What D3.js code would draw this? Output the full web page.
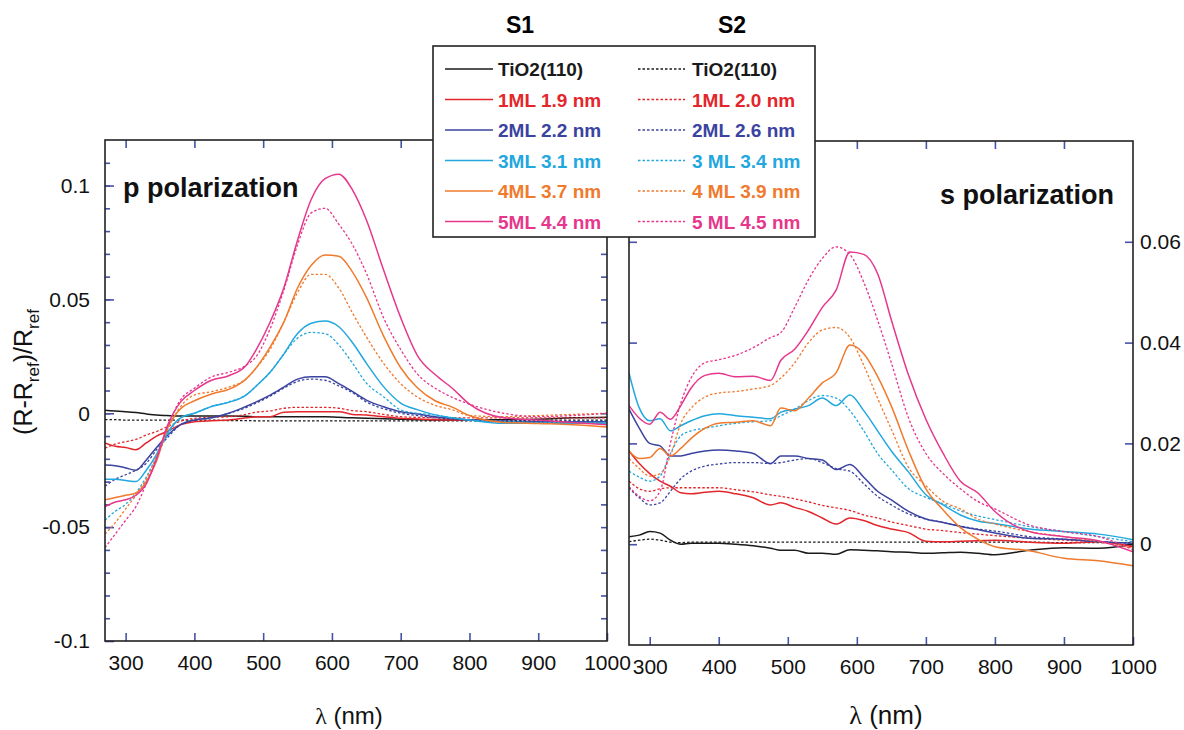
<!DOCTYPE html>
<html>
<head>
<meta charset="utf-8">
<script src="https://cdn.jsdelivr.net/npm/d3@7"></script>
<style>
  body { margin: 0; background: #fff; }
  svg { font-family: "Liberation Sans", Arial, sans-serif; }
</style>
</head>
<body>
<div id="chart"></div>
<script>
// wavelength grid (nm) shared by every curve
const WL = [270, 285, 300, 315, 330, 345, 360,
            380, 400, 425, 450, 475, 490,
            510, 530, 550, 570, 590, 610, 630, 650,
            675, 700, 725, 750, 775, 800,
            850, 900, 950, 1000];

// p polarization, sample S1 (solid lines)
const P_S1_TIO2 = [0.0013, 0.001, 0.0007, 0.0003, -0.0003, -0.0008, -0.001,
                   -0.0012, -0.0012, -0.0012, -0.0012, -0.0013, -0.0015,
                   -0.0015, -0.0015, -0.0015, -0.0015, -0.0015, -0.0018, -0.002, -0.0022,
                   -0.0024, -0.0026, -0.0028, -0.003, -0.003, -0.003,
                   -0.0028, -0.0026, -0.002, -0.0017];
const P_S1_1ML = [-0.013, -0.0145, -0.015, -0.016, -0.013, -0.010, -0.008,
                  -0.005, -0.0037, -0.0033, -0.003, -0.002, -0.0015,
                  -0.0015, 0.0005, 0.0007, 0.0007, 0.0007, 0.0007, -0.0005, -0.0008,
                  -0.0015, -0.0022, -0.0025, -0.0028, -0.003, -0.003,
                  -0.0035, -0.004, -0.004, -0.0044];
const P_S1_2ML = [-0.0227, -0.023, -0.024, -0.025, -0.0205, -0.015, -0.010,
                  -0.005, -0.003, -0.002, 0.0, 0.003, 0.005,
                  0.008, 0.0115, 0.015, 0.016, 0.016, 0.013, 0.0095, 0.0058,
                  0.0029, 0.0007, -0.0003, -0.0015, -0.0022, -0.003,
                  -0.0035, -0.0037, -0.0037, -0.0037];
const P_S1_3ML = [-0.029, -0.029, -0.0295, -0.030, -0.025, -0.018, -0.009,
                  -0.002, 0.0, 0.003, 0.0048, 0.008, 0.012,
                  0.018, 0.026, 0.035, 0.0395, 0.0405, 0.038, 0.031, 0.022,
                  0.0117, 0.0045, 0.0015, -0.0007, -0.002, -0.003,
                  -0.0044, -0.0044, -0.0044, -0.0044];
const P_S1_4ML = [-0.038, -0.037, -0.036, -0.035, -0.030, -0.021, -0.007,
                  0.002, 0.0055, 0.0085, 0.0105, 0.015, 0.020,
                  0.029, 0.040, 0.055, 0.065, 0.0695, 0.069, 0.062, 0.051,
                  0.034, 0.020, 0.011, 0.0055, 0.0027, -0.001,
                  -0.004, -0.0045, -0.005, -0.006];
const P_S1_5ML = [-0.041, -0.039, -0.038, -0.036, -0.031, -0.020, -0.006,
                  0.005, 0.010, 0.0145, 0.0165, 0.021, 0.028,
                  0.040, 0.055, 0.076, 0.094, 0.103, 0.105, 0.098, 0.085,
                  0.063, 0.042, 0.025, 0.017, 0.011, 0.004,
                  -0.002, -0.003, -0.004, -0.005];

// p polarization, sample S2 (dashed lines)
const P_S2_TIO2 = [-0.0028, -0.0028, -0.003, -0.003, -0.003, -0.003, -0.003,
                   -0.003, -0.003, -0.003, -0.0032, -0.0032, -0.0033,
                   -0.0033, -0.0033, -0.0033, -0.0033, -0.0033, -0.0033, -0.0033, -0.0033,
                   -0.0033, -0.0033, -0.0033, -0.0033, -0.0033, -0.0033,
                   -0.0032, -0.003, -0.003, -0.003];
const P_S2_1ML = [-0.0153, -0.0135, -0.0125, -0.0115, -0.0095, -0.008, -0.006,
                  -0.0035, -0.0022, -0.0018, -0.0015, -0.0005, 0.0005,
                  0.001, 0.0022, 0.0026, 0.0026, 0.0026, 0.0022, 0.0012, 0.0007,
                  -0.0005, -0.0015, -0.0018, -0.002, -0.002, -0.002,
                  -0.002, -0.002, -0.002, -0.002];
const P_S2_2ML = [-0.032, -0.029, -0.027, -0.025, -0.022, -0.016, -0.011,
                  -0.005, -0.003, -0.002, 0.0, 0.0025, 0.0045,
                  0.0075, 0.011, 0.014, 0.015, 0.0145, 0.012, 0.009, 0.005,
                  0.002, 0.0, -0.001, -0.002, -0.0025, -0.003,
                  -0.0035, -0.0035, -0.0035, -0.0035];
const P_S2_3ML = [-0.047, -0.043, -0.040, -0.035, -0.028, -0.019, -0.010,
                  -0.002, 0.0, 0.003, 0.005, 0.008, 0.012,
                  0.018, 0.026, 0.033, 0.0355, 0.035, 0.030, 0.022, 0.0133,
                  0.0073, 0.0015, 0.0, -0.0007, -0.002, -0.003,
                  -0.0035, -0.004, -0.004, -0.004];
const P_S2_4ML = [-0.053, -0.048, -0.042, -0.036, -0.029, -0.019, -0.008,
                  0.003, 0.008, 0.0095, 0.0115, 0.015, 0.020,
                  0.028, 0.040, 0.053, 0.061, 0.061, 0.055, 0.044, 0.0336,
                  0.022, 0.013, 0.007, 0.0035, 0.0015, -0.001,
                  -0.0015, -0.001, -0.0005, 0.0];
const P_S2_5ML = [-0.059, -0.053, -0.047, -0.041, -0.031, -0.020, -0.007,
                  0.006, 0.011, 0.016, 0.018, 0.021, 0.025,
                  0.037, 0.054, 0.074, 0.088, 0.090, 0.083, 0.074, 0.0615,
                  0.042, 0.028, 0.017, 0.011, 0.007, 0.004,
                  0.0, -0.0015, -0.001, 0.0];

// s polarization, sample S1 (solid lines)
const S_S1_TIO2 = [0.0015, 0.0018, 0.0025, 0.0022, 0.0008, 0.0, 0.0002,
                   0.0002, 0.0002, 0.0, -0.0003, -0.0008, -0.0012,
                   -0.0012, -0.0018, -0.0018, -0.002, -0.0011, -0.0012, -0.0013, -0.0015,
                   -0.0016, -0.0018, -0.0017, -0.0016, -0.0018, -0.0021,
                   -0.0012, -0.0007, -0.0008, 0.0];
const S_S1_1ML = [0.0185, 0.016, 0.014, 0.0125, 0.0115, 0.0102, 0.010,
                  0.0103, 0.0105, 0.010, 0.0092, 0.0078, 0.0082,
                  0.0073, 0.0065, 0.0052, 0.004, 0.0052, 0.0047, 0.0037, 0.003,
                  0.0023, 0.0006, 0.0005, 0.0006, 0.0007, 0.0008,
                  0.0004, 0.0002, 0.0005, -0.0005];
const S_S1_2ML = [0.0268, 0.023, 0.020, 0.0195, 0.0175, 0.0175, 0.018,
                  0.0185, 0.0187, 0.0185, 0.018, 0.016, 0.0175,
                  0.0175, 0.017, 0.0167, 0.0148, 0.0158, 0.0133, 0.0105, 0.0088,
                  0.0065, 0.005, 0.0043, 0.0035, 0.0029, 0.0022,
                  0.0012, 0.001, 0.0005, 0.0002];
const S_S1_3ML = [0.034, 0.027, 0.0245, 0.0249, 0.0225, 0.0235, 0.0245,
                  0.0255, 0.0259, 0.0255, 0.0252, 0.0249, 0.0262,
                  0.0268, 0.0275, 0.029, 0.0275, 0.0296, 0.0265, 0.0225, 0.0185,
                  0.0143, 0.0098, 0.0078, 0.0058, 0.0046, 0.0041,
                  0.003, 0.0025, 0.002, 0.0009];
const S_S1_4ML = [0.0185, 0.017, 0.0172, 0.019, 0.0175, 0.019, 0.021,
                  0.023, 0.024, 0.0242, 0.0245, 0.0235, 0.027,
                  0.0265, 0.029, 0.032, 0.034, 0.0395, 0.0378, 0.0333, 0.0274,
                  0.0185, 0.011, 0.0068, 0.0033, 0.001, -0.0005,
                  -0.0013, -0.0028, -0.0033, -0.0043];
const S_S1_5ML = [0.0275, 0.025, 0.0238, 0.0262, 0.0248, 0.0275, 0.031,
                  0.0335, 0.0339, 0.0332, 0.0333, 0.0325, 0.0365,
                  0.0387, 0.0425, 0.047, 0.0504, 0.058, 0.0575, 0.0537, 0.0445,
                  0.0335, 0.0248, 0.018, 0.0125, 0.0102, 0.0065,
                  0.0025, 0.0015, 0.0007, -0.0015];

// s polarization, sample S2 (dashed lines)
const S_S2_TIO2 = [0.0005, 0.0008, 0.001, 0.0008, 0.0004, 0.0003, 0.0004,
                   0.0004, 0.0004, 0.0004, 0.0004, 0.0004, 0.0004,
                   0.0004, 0.0004, 0.0004, 0.0004, 0.0004, 0.0004, 0.0004, 0.0004,
                   0.0004, 0.0004, 0.0004, 0.0004, 0.0004, 0.0004,
                   0.0004, 0.0003, 0.0003, 0.0003];
const S_S2_1ML = [0.0125, 0.011, 0.0105, 0.011, 0.0112, 0.0112, 0.0112,
                  0.0112, 0.0112, 0.0108, 0.0104, 0.0098, 0.0095,
                  0.009, 0.0084, 0.0077, 0.0072, 0.0067, 0.0058, 0.0052, 0.0044,
                  0.0037, 0.003, 0.0027, 0.0023, 0.002, 0.0017,
                  0.0012, 0.0008, 0.0004, -0.0005];
const S_S2_2ML = [0.0112, 0.0092, 0.0078, 0.0082, 0.0105, 0.013, 0.0145,
                  0.0155, 0.0159, 0.0162, 0.0162, 0.016, 0.0162,
                  0.0167, 0.017, 0.0162, 0.015, 0.0145, 0.012, 0.0095, 0.0078,
                  0.006, 0.005, 0.0043, 0.0036, 0.003, 0.0026,
                  0.0015, 0.001, 0.0005, 0.0002];
const S_S2_3ML = [0.0145, 0.0133, 0.0125, 0.0135, 0.018, 0.0215, 0.0225,
                  0.023, 0.0235, 0.024, 0.0243, 0.0245, 0.0255,
                  0.0268, 0.0285, 0.0295, 0.029, 0.0265, 0.0225, 0.018, 0.0148,
                  0.011, 0.0093, 0.008, 0.0066, 0.0056, 0.0049,
                  0.0035, 0.0025, 0.0015, 0.0005];
const S_S2_4ML = [0.017, 0.015, 0.0135, 0.014, 0.0175, 0.024, 0.027,
                  0.0292, 0.030, 0.0303, 0.0308, 0.0315, 0.033,
                  0.036, 0.040, 0.0425, 0.043, 0.041, 0.0355, 0.029, 0.0228,
                  0.0152, 0.0116, 0.0085, 0.007, 0.005, 0.004,
                  0.0025, 0.0015, 0.0005, -0.0008];
const S_S2_5ML = [0.0114, 0.0095, 0.0086, 0.0105, 0.020, 0.028, 0.033,
                  0.036, 0.0366, 0.0375, 0.039, 0.041, 0.042,
                  0.047, 0.0525, 0.0567, 0.059, 0.0575, 0.052, 0.0445, 0.036,
                  0.025, 0.018, 0.014, 0.011, 0.0085, 0.007,
                  0.0038, 0.0025, 0.0015, -0.0011];

// legend labels and colours (same order as the series)
const LABELS_S1 = ["TiO2(110)", "1ML 1.9 nm", "2ML 2.2 nm", "3ML 3.1 nm", "4ML 3.7 nm", "5ML 4.4 nm"];
const LABELS_S2 = ["TiO2(110)", "1ML 2.0 nm", "2ML 2.6 nm", "3 ML 3.4 nm", "4 ML 3.9 nm", "5 ML 4.5 nm"];
const COLORS = ["#1a1a1a", "#e3262b", "#3b43a0", "#22a7de", "#f07a2d", "#e6378c"];

// tick values
const X_TICKS = [300, 400, 500, 600, 700, 800, 900, 1000];
const P_Y_TICKS = [-0.1, -0.05, 0, 0.05, 0.1];
const P_Y_MINOR = d3.range(-0.09, 0.115, 0.01).map((d) => Math.round(d * 100) / 100);
const S_Y_TICKS = [0, 0.02, 0.04, 0.06];

const P_SERIES = [[P_S1_TIO2, P_S1_1ML, P_S1_2ML, P_S1_3ML, P_S1_4ML, P_S1_5ML],
                  [P_S2_TIO2, P_S2_1ML, P_S2_2ML, P_S2_3ML, P_S2_4ML, P_S2_5ML]];
const S_SERIES = [[S_S1_TIO2, S_S1_1ML, S_S1_2ML, S_S1_3ML, S_S1_4ML, S_S1_5ML],
                  [S_S2_TIO2, S_S2_1ML, S_S2_2ML, S_S2_3ML, S_S2_4ML, S_S2_5ML]];

const WIDTH = 1184;
const HEIGHT = 730;
const TICK_COLOR = "#4652a6";
const DASH = "2.5,2";

const SVG = d3.select("#chart")
              .append("svg")
                .attr("width", WIDTH)
                .attr("height", HEIGHT);

// one panel: frame, ticks, curves
function build_panel(cfg) {
  const X_SCALE = d3.scaleLinear().domain([270, 1000]).range([cfg.left, cfg.right]);
  const Y_SCALE = d3.scaleLinear().domain(cfg.yDomain).range([cfg.bottom, cfg.top]);
  const W = cfg.right - cfg.left;
  const H = cfg.bottom - cfg.top;

  const G = SVG.append("g");

  // clip so curves stay inside the frame
  G.append("clipPath").attr("id", cfg.id + "-clip")
    .append("rect")
      .attr("x", cfg.left).attr("y", cfg.top)
      .attr("width", W).attr("height", H);

  // bottom x ticks + labels
  G.append("g")
    .attr("transform", "translate(0," + cfg.bottom + ")")
    .call(d3.axisBottom(X_SCALE).tickValues(X_TICKS).tickSize(-8).tickPadding(14)
            .tickFormat(d3.format("d")))
    .call((g) => g.select(".domain").remove());

  // top x ticks
  G.append("g")
    .attr("transform", "translate(0," + cfg.top + ")")
    .call(d3.axisTop(X_SCALE).tickValues(X_TICKS.slice(0, 7)).tickSize(-8).tickFormat(""))
    .call((g) => g.select(".domain").remove());

  if (cfg.id === "p") {
    // major left ticks with labels
    G.append("g")
      .attr("transform", "translate(" + cfg.left + ",0)")
      .call(d3.axisLeft(Y_SCALE).tickValues(P_Y_TICKS).tickSize(-9).tickPadding(15)
              .tickFormat((d) => String(d)))
      .call((g) => g.select(".domain").remove());
    // minor left ticks
    G.append("g")
      .attr("transform", "translate(" + cfg.left + ",0)")
      .call(d3.axisLeft(Y_SCALE).tickValues(P_Y_MINOR).tickSize(-5).tickFormat(""))
      .call((g) => g.select(".domain").remove());
    // right side ticks
    G.append("g")
      .attr("transform", "translate(" + cfg.right + ",0)")
      .call(d3.axisRight(Y_SCALE).tickValues(P_Y_MINOR).tickSize(-6).tickFormat(""))
      .call((g) => g.select(".domain").remove());
  } else {
    // right ticks with labels
    G.append("g")
      .attr("transform", "translate(" + cfg.right + ",0)")
      .call(d3.axisRight(Y_SCALE).tickValues(S_Y_TICKS).tickSize(-8).tickPadding(7)
              .tickFormat((d) => String(d)))
      .call((g) => g.select(".domain").remove());
    // left ticks, no labels
    G.append("g")
      .attr("transform", "translate(" + cfg.left + ",0)")
      .call(d3.axisLeft(Y_SCALE).tickValues(S_Y_TICKS).tickSize(-8).tickFormat(""))
      .call((g) => g.select(".domain").remove());
  }

  G.selectAll(".tick line").attr("stroke", TICK_COLOR).attr("stroke-width", 1.6);
  G.selectAll(".tick text")
    .attr("font-family", "'Liberation Sans', Arial, sans-serif")
    .attr("font-size", "21px")
    .attr("fill", "#111");

  // curves: dashed S2 under solid S1, colour order black → magenta
  const LINE = d3.line()
                 .x((d) => X_SCALE(d[0]))
                 .y((d) => Y_SCALE(d[1]))
                 .curve(d3.curveMonotoneX);

  const CURVES = G.append("g").attr("clip-path", "url(#" + cfg.id + "-clip)");
  for (let i = 0; i < 6; i++) {
    [1, 0].forEach((s) => {
      const pts = WL.map((w, k) => [w, cfg.series[s][i][k]]);
      CURVES.append("path")
        .attr("d", LINE(pts))
        .attr("fill", "none")
        .attr("stroke", COLORS[i])
        .attr("stroke-width", s === 0 ? 1.5 : 1.3)
        .attr("stroke-dasharray", s === 0 ? null : DASH);
    });
  }

  // frame
  G.append("rect")
    .attr("x", cfg.left).attr("y", cfg.top)
    .attr("width", W).attr("height", H)
    .attr("fill", "none")
    .attr("stroke", "#222")
    .attr("stroke-width", 1.6);

  // panel title inside plot
  G.append("text")
    .attr("x", cfg.titleX).attr("y", cfg.titleY)
    .attr("text-anchor", cfg.titleAnchor)
    .attr("font-size", "27px")
    .attr("font-weight", "bold")
    .attr("fill", "#111")
    .text(cfg.title);

  // x axis title: λ (nm)
  const XT = G.append("text")
    .attr("x", cfg.xTitleX).attr("y", 724)
    .attr("text-anchor", "middle")
    .attr("font-size", cfg.xTitleSize)
    .attr("fill", "#111");
  XT.append("tspan").attr("font-family", "'Liberation Serif', 'Times New Roman', serif").text("λ");
  XT.append("tspan").text(" (nm)");
}

build_panel({id: "p", left: 105, right: 607, top: 140, bottom: 641,
             yDomain: [-0.1, 0.12], series: P_SERIES,
             title: "p polarization", titleX: 123, titleY: 197, titleAnchor: "start",
             xTitleX: 349, xTitleSize: "24px"});
build_panel({id: "s", left: 629, right: 1133, top: 141, bottom: 645,
             yDomain: [-0.02, 0.08], series: S_SERIES,
             title: "s polarization", titleX: 1114, titleY: 204, titleAnchor: "end",
             xTitleX: 886, xTitleSize: "26px"});

// y axis title (R-Rref)/Rref
const YT = SVG.append("text")
  .attr("transform", "translate(32,372) rotate(-90)")
  .attr("text-anchor", "middle")
  .attr("font-size", "25px")
  .attr("fill", "#111");
YT.append("tspan").text("(R-R");
YT.append("tspan").attr("font-size", "17px").attr("dy", 7).text("ref");
YT.append("tspan").attr("dy", -7).text(")/R");
YT.append("tspan").attr("font-size", "17px").attr("dy", 7).text("ref");

// sample headers
SVG.append("text").attr("x", 520).attr("y", 33).attr("text-anchor", "middle")
   .attr("font-size", "23px").attr("font-weight", "bold").text("S1");
SVG.append("text").attr("x", 732).attr("y", 33).attr("text-anchor", "middle")
   .attr("font-size", "23px").attr("font-weight", "bold").text("S2");

// legend box
const LEGEND = SVG.append("g");
LEGEND.append("rect")
  .attr("x", 433).attr("y", 46)
  .attr("width", 382).attr("height", 191)
  .attr("fill", "#fff")
  .attr("stroke", "#222")
  .attr("stroke-width", 1.6);

const ROW_Y = (i) => 69 + i * 30.5;
[[LABELS_S1, 445, 493, 498, null], [LABELS_S2, 638, 685, 692, DASH]].forEach(([labels, x1, x2, tx, dash]) => {
  LEGEND.selectAll(null)
    .data(labels)
    .enter()
    .append("line")
      .attr("x1", x1).attr("x2", x2)
      .attr("y1", (d, i) => ROW_Y(i)).attr("y2", (d, i) => ROW_Y(i))
      .attr("stroke", (d, i) => COLORS[i])
      .attr("stroke-width", 1.5)
      .attr("stroke-dasharray", dash);
  LEGEND.selectAll(null)
    .data(labels)
    .enter()
    .append("text")
      .attr("x", tx)
      .attr("y", (d, i) => ROW_Y(i) + 7)
      .attr("font-size", "19px")
      .attr("font-weight", "bold")
      .attr("fill", (d, i) => COLORS[i])
      .text((d) => d);
});
</script>
</body>
</html>
